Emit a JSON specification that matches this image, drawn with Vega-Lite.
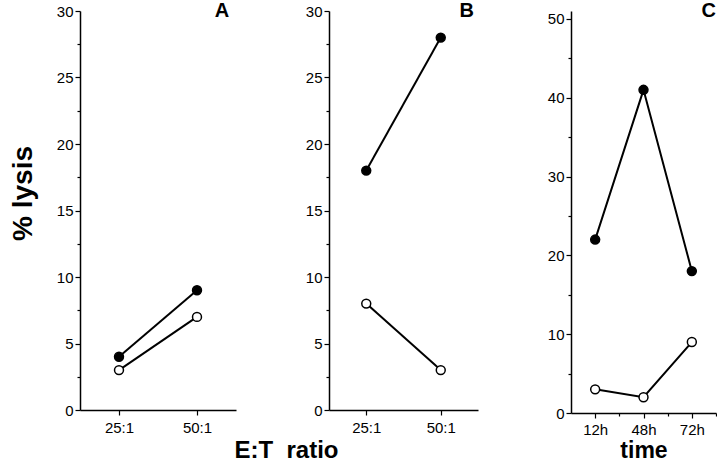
{
  "$schema": "https://vega.github.io/schema/vega-lite/v6.json",
  "padding": {"left": 9, "top": 1, "right": 0, "bottom": 0},
  "background": "white",
  "config": {
    "view": {"stroke": null},
    "font": "Liberation Sans",
    "axis": {"domainColor": "black", "domainWidth": 1.5, "tickColor": "black", "tickWidth": 1.2, "labelColor": "black", "labelFontSize": 15, "labelFont": "Liberation Sans", "titleColor": "black", "titleFont": "Liberation Sans", "grid": false},
    "text": {"font": "Liberation Sans", "fontSize": 20, "fontWeight": "bold", "color": "black"}
  },
  "datasets": {
    "lysis": [
      {"panel": "A", "x": "25:1", "xi": 1, "series": "filled", "lysis": 4},
      {"panel": "A", "x": "50:1", "xi": 2, "series": "filled", "lysis": 9},
      {"panel": "A", "x": "25:1", "xi": 1, "series": "open", "lysis": 3},
      {"panel": "A", "x": "50:1", "xi": 2, "series": "open", "lysis": 7},
      {"panel": "B", "x": "25:1", "xi": 1, "series": "filled", "lysis": 18},
      {"panel": "B", "x": "50:1", "xi": 2, "series": "filled", "lysis": 28},
      {"panel": "B", "x": "25:1", "xi": 1, "series": "open", "lysis": 8},
      {"panel": "B", "x": "50:1", "xi": 2, "series": "open", "lysis": 3},
      {"panel": "C", "x": "12h", "xi": 1, "series": "filled", "lysis": 22},
      {"panel": "C", "x": "48h", "xi": 2, "series": "filled", "lysis": 41},
      {"panel": "C", "x": "72h", "xi": 3, "series": "filled", "lysis": 18},
      {"panel": "C", "x": "12h", "xi": 1, "series": "open", "lysis": 3},
      {"panel": "C", "x": "48h", "xi": 2, "series": "open", "lysis": 2},
      {"panel": "C", "x": "72h", "xi": 3, "series": "open", "lysis": 9}
    ]
  },
  "spacing": 93,
  "bounds": "flush",
  "resolve": {"scale": {"x": "independent", "y": "independent"}},
  "hconcat": [
    {
      "width": 156, "height": 399,
      "data": {"name": "lysis"},
      "transform": [{"filter": "datum.panel === 'A'"}],
      "encoding": {
        "x": {"field": "x", "type": "ordinal", "sort": ["25:1", "50:1"], "scale": {"type": "point", "padding": 0.5},
          "axis": {"labelAngle": 0, "tickSize": 5, "labelPadding": 5, "title": "E:T\u00a0\u00a0ratio", "titleX": 206, "titleAlign": "center", "titleFontSize": 24, "titleFontWeight": "bold", "titlePadding": 3}},
        "y": {"field": "lysis", "type": "quantitative", "scale": {"domain": [0, 30], "nice": false},
          "axis": {"values": [0, 2.5, 5, 7.5, 10, 12.5, 15, 17.5, 20, 22.5, 25, 27.5, 30],
            "labelExpr": "datum.value % 5 === 0 ? datum.label : ''",
            "tickSize": {"condition": {"test": "datum.value % 5 === 0", "value": 5}, "value": 3},
            "labelPadding": 2,
            "title": "% lysis", "titleFontSize": 28, "titleFontWeight": "bold", "titlePadding": 19, "titleY": 182}}
      },
      "layer": [
        {"mark": {"type": "line", "color": "black", "strokeWidth": 2}, "encoding": {"detail": {"field": "series"}}},
        {"mark": {"type": "point", "filled": true, "size": 80, "stroke": "black", "strokeWidth": 1.5, "opacity": 1},
          "encoding": {"fill": {"field": "series", "type": "nominal", "scale": {"domain": ["filled", "open"], "range": ["black", "white"]}, "legend": null}}},
        {"data": {"values": [{"label": "A", "x": "50:1", "lysis": 30}]},
          "mark": {"type": "text", "align": "center", "baseline": "middle", "dx": 25},
          "encoding": {"text": {"field": "label"}}}
      ]
    },
    {
      "width": 149, "height": 399,
      "data": {"name": "lysis"},
      "transform": [{"filter": "datum.panel === 'B'"}],
      "encoding": {
        "x": {"field": "x", "type": "ordinal", "sort": ["25:1", "50:1"], "scale": {"type": "point", "padding": 0.5},
          "axis": {"labelAngle": 0, "tickSize": 5, "labelPadding": 5, "title": null}},
        "y": {"field": "lysis", "type": "quantitative", "scale": {"domain": [0, 30], "nice": false},
          "axis": {"values": [0, 2.5, 5, 7.5, 10, 12.5, 15, 17.5, 20, 22.5, 25, 27.5, 30],
            "labelExpr": "datum.value % 5 === 0 ? datum.label : ''",
            "tickSize": {"condition": {"test": "datum.value % 5 === 0", "value": 5}, "value": 3},
            "labelPadding": 2, "title": null}}
      },
      "layer": [
        {"mark": {"type": "line", "color": "black", "strokeWidth": 2}, "encoding": {"detail": {"field": "series"}}},
        {"mark": {"type": "point", "filled": true, "size": 80, "stroke": "black", "strokeWidth": 1.5, "opacity": 1},
          "encoding": {"fill": {"field": "series", "type": "nominal", "scale": {"domain": ["filled", "open"], "range": ["black", "white"]}, "legend": null}}},
        {"data": {"values": [{"label": "B", "x": "50:1", "lysis": 30}]},
          "mark": {"type": "text", "align": "center", "baseline": "middle", "dx": 26},
          "encoding": {"text": {"field": "label"}}}
      ]
    },
    {
      "width": 145, "height": 402,
      "data": {"name": "lysis"},
      "transform": [{"filter": "datum.panel === 'C'"}],
      "encoding": {
        "x": {"field": "xi", "type": "quantitative", "scale": {"domain": [0.5, 3.5], "nice": false, "zero": false},
          "axis": {"values": [1, 1.5, 2, 2.5, 3, 3.5],
            "labelExpr": "datum.value === 1 ? '12h' : datum.value === 2 ? '48h' : datum.value === 3 ? '72h' : ''",
            "tickSize": {"condition": {"test": "datum.value % 1 === 0", "value": 5}, "value": 3},
            "labelPadding": 4, "labelFlush": false,
            "title": "time", "titleFontSize": 23, "titleFontWeight": "bold", "titlePadding": 2}},
        "y": {"field": "lysis", "type": "quantitative", "scale": {"domain": [0, 51], "nice": false},
          "axis": {"values": [0, 5, 10, 15, 20, 25, 30, 35, 40, 45, 50],
            "labelExpr": "datum.value % 10 === 0 ? datum.label : ''",
            "tickSize": {"condition": {"test": "datum.value % 10 === 0", "value": 5}, "value": 3},
            "labelPadding": 2, "title": null}}
      },
      "layer": [
        {"mark": {"type": "line", "color": "black", "strokeWidth": 2}, "encoding": {"detail": {"field": "series"}}},
        {"mark": {"type": "point", "filled": true, "size": 80, "stroke": "black", "strokeWidth": 1.5, "opacity": 1},
          "encoding": {"fill": {"field": "series", "type": "nominal", "scale": {"domain": ["filled", "open"], "range": ["black", "white"]}, "legend": null}}},
        {"data": {"values": [{"label": "C", "xi": 3.5, "lysis": 51}]},
          "mark": {"type": "text", "align": "right", "baseline": "middle"},
          "encoding": {"text": {"field": "label"}}}
      ]
    }
  ]
}
